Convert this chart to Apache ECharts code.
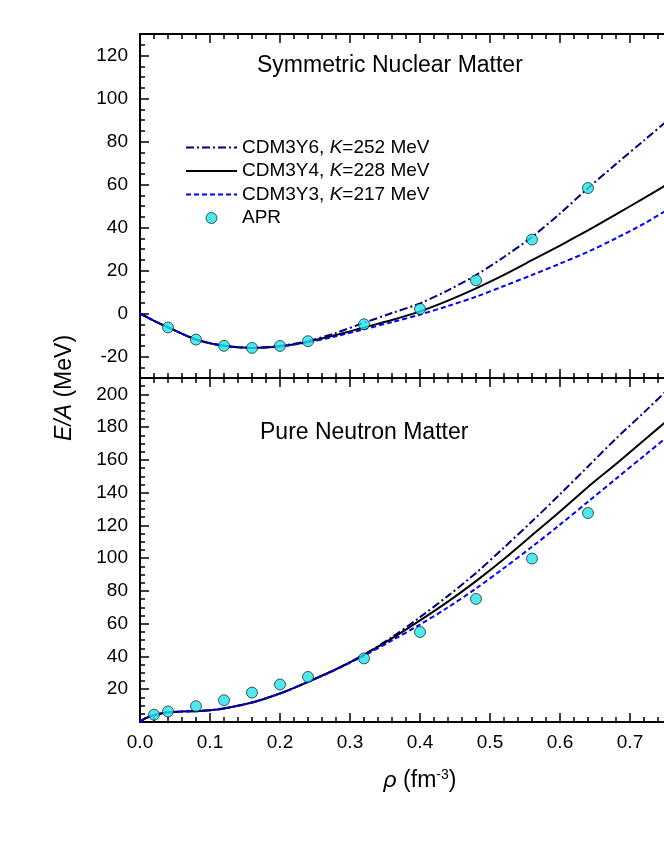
<!DOCTYPE html>
<html><head><meta charset="utf-8">
<script src="https://cdn.jsdelivr.net/npm/echarts@6/dist/echarts.min.js"></script>
<style>html,body{margin:0;padding:0;background:#fff}#c{width:664px;height:860px}</style>
</head><body><div id="c"></div>
<script>
const FONT = "'Liberation Sans', Arial, sans-serif";

// ---- Symmetric nuclear matter (top panel) ----
const snmRho = [0, 0.02, 0.04, 0.08, 0.12, 0.16, 0.20, 0.24, 0.28, 0.32, 0.36, 0.40, 0.44, 0.48, 0.52, 0.56, 0.60, 0.64, 0.68, 0.72, 0.76, 0.80];
const snmY6 = [0, -3.4, -6.4, -12.1, -15.0, -16.0, -15.1, -12.8, -9.0, -4.3, 0.2, 4.7, 10.8, 17.9, 26.3, 35.6, 46.5, 58.3, 69.5, 80.5, 91.5, 102.5];
const snmY4 = [0, -3.4, -6.4, -12.1, -15.0, -16.0, -15.2, -13.1, -10.0, -6.5, -3.0, 1.0, 6.0, 11.7, 18.0, 24.8, 31.6, 38.7, 46.1, 53.7, 61.4, 69.2];
const snmY3 = [0, -3.4, -6.4, -12.1, -15.0, -16.0, -15.3, -13.4, -10.6, -7.3, -4.0, -0.5, 3.5, 7.8, 12.8, 17.9, 23.2, 28.7, 35.0, 41.8, 49.5, 57.0];
const aprSnmRho = [0.04, 0.08, 0.12, 0.16, 0.20, 0.24, 0.32, 0.40, 0.48, 0.56, 0.64];
const aprSnm = [-6.48, -12.13, -15.04, -16.00, -15.09, -12.88, -5.03, 2.13, 15.46, 34.39, 58.35];

// ---- Pure neutron matter (bottom panel) ----
const pnmRho = [0, 0.005, 0.01, 0.02, 0.03, 0.04, 0.06, 0.08, 0.10, 0.12, 0.16, 0.20, 0.24, 0.28, 0.32, 0.36, 0.40, 0.44, 0.48, 0.52, 0.56, 0.60, 0.64, 0.68, 0.72, 0.76, 0.80];
const pnmY6 = [0, 1.6, 2.7, 4.1, 5.2, 5.9, 6.4, 6.6, 7.2, 8.3, 11.9, 17.4, 24.5, 32.2, 41.2, 51.8, 64.0, 77.0, 91.0, 106.5, 122.5, 139.0, 156.0, 173.0, 189.0, 205.5, 222.0];
const pnmY4 = [0, 1.6, 2.7, 4.1, 5.2, 5.9, 6.4, 6.6, 7.2, 8.3, 11.9, 17.4, 24.5, 32.2, 41.0, 51.0, 62.0, 73.5, 86.0, 99.5, 114.0, 128.5, 143.5, 157.5, 172.0, 186.5, 201.0];
const pnmY3 = [0, 1.6, 2.7, 4.1, 5.2, 5.9, 6.4, 6.6, 7.2, 8.3, 11.9, 17.4, 24.5, 32.0, 40.5, 49.8, 59.5, 70.0, 81.5, 94.0, 107.0, 120.5, 134.5, 148.5, 162.5, 176.5, 191.0];
const aprPnmRho = [0.02, 0.04, 0.08, 0.12, 0.16, 0.20, 0.24, 0.32, 0.40, 0.48, 0.56, 0.64];
const aprPnm = [4.45, 6.45, 9.65, 13.29, 17.94, 22.92, 27.49, 38.82, 54.95, 75.13, 99.75, 127.58];

// ---- labels ----
const seriesNames = ['CDM3Y6', 'CDM3Y4', 'CDM3Y3', 'APR'];
const kValues = [252, 228, 217];
const panelTitles = ['Symmetric Nuclear Matter', 'Pure Neutron Matter'];
const xTickLabels = ['0.0', '0.1', '0.2', '0.3', '0.4', '0.5', '0.6', '0.7', '0.8'];

const pair = (xs, ys) => xs.map((x, i) => [x, ys[i]]);

const COLORS = { CDM3Y6: '#000080', CDM3Y4: '#000000', CDM3Y3: '#0000ff', APR: '#22e4ea' };
const lineStyles = {
  CDM3Y6: { color: COLORS.CDM3Y6, width: 2, type: [8, 3, 2, 3] },
  CDM3Y4: { color: COLORS.CDM3Y4, width: 2, type: 'solid' },
  CDM3Y3: { color: COLORS.CDM3Y3, width: 2, type: [5, 3] }
};
// legend sample icons (dash patterns drawn as filled strips)
const legendIcons = {
  CDM3Y6: 'path://M0,0h8v2h-8z M11,0h2v2h-2z M16,0h8v2h-8z M27,0h2v2h-2z M32,0h8v2h-8z M43,0h2v2h-2z M48,0h3v2h-3z',
  CDM3Y4: 'path://M0,0h51v2h-51z',
  CDM3Y3: 'path://M0,0h5v2h-5z M8,0h5v2h-5z M16,0h5v2h-5z M24,0h5v2h-5z M32,0h5v2h-5z M40,0h5v2h-5z M48,0h3v2h-3z',
  APR: 'circle'
};

function curve(name, xs, ys, xi, yi) {
  return {
    type: 'line', name, data: pair(xs, ys), xAxisIndex: xi, yAxisIndex: yi,
    symbol: 'none', smooth: 0.3, lineStyle: lineStyles[name],
    itemStyle: { color: COLORS[name] }, z: 2, silent: true
  };
}
function apr(xs, ys, xi, yi) {
  return {
    type: 'scatter', name: 'APR', data: pair(xs, ys), xAxisIndex: xi, yAxisIndex: yi,
    symbol: 'circle', symbolSize: 11,
    itemStyle: { color: COLORS.APR, borderColor: '#000', borderWidth: 0.8 }, z: 5, silent: true
  };
}

const axisLine = { show: true, onZero: false, lineStyle: { color: '#000', width: 2 } };
const lblStyle = { color: '#000', fontSize: 19, fontFamily: FONT };

function xAx(grid, pos, showLabels) {
  const ax = {
    type: 'value', gridIndex: grid, position: pos, min: 0, max: 0.8, interval: 0.1,
    axisLine, splitLine: { show: false },
    axisTick: { show: true, inside: true, length: 9, lineStyle: { color: '#000', width: 1.5 } },
    minorTick: { show: true, splitNumber: 5, length: 5, lineStyle: { color: '#000', width: 1.5 } },
    axisLabel: { show: showLabels, margin: 11, ...lblStyle, formatter: v => xTickLabels[Math.round(v * 10)] }
  };
  if (showLabels) {
    ax.name = '{i|ρ} (fm{s|-3})';
    ax.nameLocation = 'middle';
    ax.nameGap = 46;
    ax.nameTextStyle = {
      color: '#000', fontSize: 23, fontFamily: FONT,
      rich: {
        i: { fontStyle: 'italic', fontSize: 23, fontFamily: FONT, color: '#000' },
        s: { fontSize: 14, fontFamily: FONT, color: '#000', verticalAlign: 'bottom', padding: [0, 0, 12, 0] }
      }
    };
  }
  return ax;
}
function yMain(grid, min, max, extra) {
  return Object.assign({
    type: 'value', gridIndex: grid, position: 'left', min, max,
    axisLine, splitLine: { show: false },
    axisTick: { show: true, inside: true, length: 9, lineStyle: { color: '#000', width: 1.5 } },
    axisLabel: { show: true, margin: 12, ...lblStyle, showMinLabel: false, showMaxLabel: false }
  }, extra);
}
function yMinor(grid, min, max) {
  return {
    type: 'value', gridIndex: grid, position: 'left', min, max, interval: 5,
    axisLine: { show: false, onZero: false }, splitLine: { show: false },
    axisTick: { show: true, inside: true, length: 5, lineStyle: { color: '#000', width: 1.5 } },
    axisLabel: { show: false }
  };
}

const option = {
  animation: false,
  backgroundColor: '#fff',
  textStyle: { fontFamily: FONT },
  grid: [
    { left: 140, top: 34, width: 560, height: 344, containLabel: false, outerBoundsMode: 'none' },
    { left: 140, top: 378, width: 560, height: 344, containLabel: false, outerBoundsMode: 'none' }
  ],
  title: [
    { text: panelTitles[0], left: 257, top: 54, padding: 0, textStyle: { fontSize: 23, fontWeight: 'normal', color: '#000', fontFamily: FONT } },
    { text: panelTitles[1], left: 260, top: 421, padding: 0, textStyle: { fontSize: 23, fontWeight: 'normal', color: '#000', fontFamily: FONT } }
  ],
  legend: {
    data: seriesNames.map(n => ({
      name: n, icon: legendIcons[n],
      itemStyle: n === 'APR'
        ? { color: COLORS.APR, borderColor: '#000', borderWidth: 0.8 }
        : { color: COLORS[n], borderWidth: 0 }
    })),
    orient: 'vertical', left: 186, top: 138,
    itemWidth: 51, itemHeight: 11, itemGap: 4.5, padding: 0,
    symbolKeepAspect: true,
    selectedMode: false,
    textStyle: {
      fontSize: 19, fontFamily: FONT, color: '#000',
      rich: { i: { fontStyle: 'italic', fontSize: 19, fontFamily: FONT, color: '#000' } }
    },
    formatter: name => {
      const idx = seriesNames.indexOf(name);
      return idx < 3 ? name + ', {i|K}=' + kValues[idx] + ' MeV' : name;
    }
  },
  xAxis: [xAx(0, 'bottom', false), xAx(0, 'top', false), xAx(1, 'bottom', true), xAx(1, 'top', false)],
  yAxis: [
    yMain(0, -30, 130, { splitNumber: 8 }),
    yMinor(0, -30, 130),
    yMain(1, 0, 210, { interval: 20 }),
    yMinor(1, 0, 210)
  ],
  graphic: [{
    type: 'text', x: 65, y: 388, rotation: Math.PI / 2,
    style: {
      text: '{i|E/A} (MeV)', fill: '#000', font: '23px ' + FONT, align: 'center', verticalAlign: 'middle',
      rich: { i: { fontStyle: 'italic', fontSize: 23, fontFamily: FONT, fill: '#000' } }
    }
  }],
  series: [
    curve('CDM3Y6', snmRho, snmY6, 0, 0),
    curve('CDM3Y4', snmRho, snmY4, 0, 0),
    curve('CDM3Y3', snmRho, snmY3, 0, 0),
    apr(aprSnmRho, aprSnm, 0, 0),
    curve('CDM3Y6', pnmRho, pnmY6, 2, 2),
    curve('CDM3Y4', pnmRho, pnmY4, 2, 2),
    curve('CDM3Y3', pnmRho, pnmY3, 2, 2),
    apr(aprPnmRho, aprPnm, 2, 2)
  ]
};
echarts.init(document.getElementById('c'), null, { renderer: 'canvas' }).setOption(option);
</script></body></html>
